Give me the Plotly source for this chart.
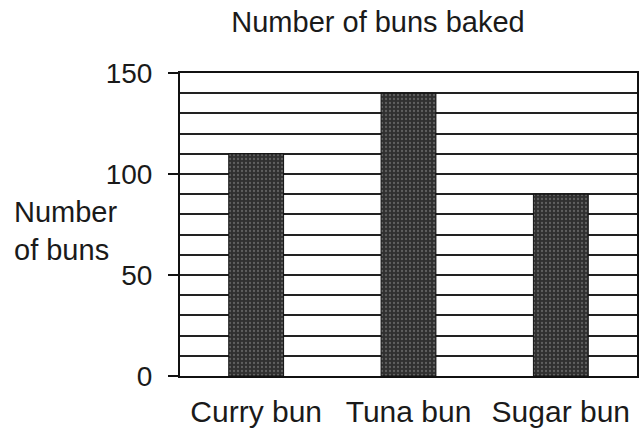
import plotly.graph_objects as go

categories = ["Curry bun", "Tuna bun", "Sugar bun"]
buns_baked = [110, 140, 90]
y_tick_values = [0, 50, 100, 150]
y_tick_labels = ["0", "50", "100", "150"]

FONT = "Liberation Sans, Arial, sans-serif"
TXT = "#1a1a1a"

fig = go.Figure(
    go.Bar(
        x=categories,
        y=buns_baked,
        marker=dict(
            color="#303030",
            line=dict(color="#111111", width=1),
            pattern=dict(shape=".", fgcolor="#8f8f8f", bgcolor="#303030", size=4, solidity=0.25),
        ),
        width=0.36,
    )
)

fig.update_layout(
    width=640,
    height=434,
    margin=dict(l=180, r=3, t=73, b=58, autoexpand=False),
    paper_bgcolor="white",
    plot_bgcolor="white",
    showlegend=False,
    font=dict(family=FONT, color=TXT),
    title=dict(
        text="Number of buns baked",
        x=378 / 640,
        xanchor="center",
        xref="container",
        y=1 - 22 / 434,
        yanchor="middle",
        yref="container",
        font=dict(size=29, family=FONT, color=TXT),
    ),
)

fig.update_xaxes(
    automargin=False,
    showline=True,
    linecolor="#111111",
    linewidth=2,
    mirror=True,
    ticks="outside",
    ticklen=8,
    tickcolor="rgba(0,0,0,0)",
    tickfont=dict(size=30, family=FONT, color=TXT),
    showgrid=False,
)

fig.update_yaxes(
    automargin=False,
    range=[0, 150],
    tickvals=y_tick_values,
    ticktext=y_tick_labels,
    ticks="outside",
    ticklen=10,
    tickwidth=2,
    tickcolor="#111111",
    ticklabelstandoff=10,
    tickfont=dict(size=28, family=FONT, color=TXT),
    showline=True,
    linecolor="#111111",
    linewidth=2,
    mirror=True,
    showgrid=True,
    gridcolor="#222222",
    gridwidth=1.5,
    zeroline=False,
    minor=dict(dtick=10, showgrid=True, gridcolor="#222222", gridwidth=1.5),
)

fig.add_annotation(
    text="Number<br>of buns",
    xref="paper",
    yref="paper",
    x=-0.368,
    y=0.48,
    xanchor="left",
    yanchor="middle",
    showarrow=False,
    align="left",
    font=dict(size=29, family=FONT, color=TXT),
)

fig.write_html(
    "out.html",
    config={"displayModeBar": False},
    post_script="document.body.style.margin='0';document.body.style.padding='0';",
)
